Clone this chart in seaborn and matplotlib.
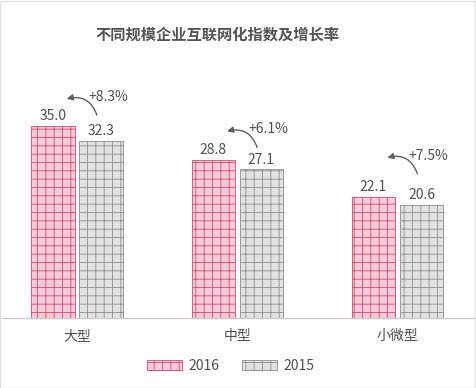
import pandas as pd
import matplotlib
matplotlib.use("Agg")
import matplotlib.pyplot as plt
import matplotlib.patches as mpatches
import seaborn as sns

# data
categories = ['大型', '中型', '小微型']
values_2016 = [35.0, 28.8, 22.1]
values_2015 = [32.3, 27.1, 20.6]
growth = ['+8.3%', '+6.1%', '+7.5%']
years = ['2016', '2015']

df = pd.DataFrame({
    'cat': categories * 2,
    'year': [years[0]] * 3 + [years[1]] * 3,
    'value': values_2016 + values_2015,
})

sns.set_style('white')
plt.rcParams['font.family'] = ['Noto Sans CJK SC', 'DejaVu Sans']
plt.rcParams['hatch.linewidth'] = 0.6

pink_dark, pink_light = '#d84a72', '#f7ccd8'
gray_dark, gray_light = '#8e8e8e', '#e2e2e2'
text_col = '#505050'

fig = plt.figure(figsize=(4.76, 3.88), dpi=100)
ax = fig.add_axes([0, 0.18, 1, 0.637])

sns.barplot(data=df, x='cat', y='value', hue='year', hue_order=years,
            width=0.6, gap=0.1, ax=ax, legend=False)

# style bars like the icon grid in the reference
styles = {years[0]: (pink_light, pink_dark), years[1]: (gray_light, gray_dark)}
for cont, yr in zip(ax.containers, years):
    face, edge = styles[yr]
    for bar in cont:
        bar.set_facecolor(face)
        bar.set_edgecolor(edge)
        bar.set_linewidth(0.6)
        bar.set_hatch('++')
    ax.bar_label(cont, fmt='%.1f', padding=2, fontsize=10, color=text_col)

# growth arrows (the small-firm one sits a bit higher in the original)
lift = [0, 0.3, 2.2]
for i, (v, g) in enumerate(zip(values_2016, growth)):
    base = v + lift[i]
    ax.annotate('', xy=(i - 0.08, base + 4.8), xytext=(i + 0.13, base + 1.5),
                arrowprops=dict(arrowstyle='-|>', color='#606060', lw=1.0,
                                mutation_scale=9,
                                connectionstyle='arc3,rad=0.5'))
    ax.text(i + 0.07, base + 5.3, g, fontsize=10, color=text_col,
            ha='left', va='center')

ax.set_xlim(-0.48, 2.49)
ax.set_ylim(0, 45)
ax.set_xlabel('')
ax.set_ylabel('')
ax.set_yticks([])
ax.tick_params(axis='x', length=0, labelsize=10, labelcolor=text_col, pad=8)
for s in ['top', 'left', 'right']:
    ax.spines[s].set_visible(False)
ax.spines['bottom'].set_color('#cccccc')
ax.spines['bottom'].set_linewidth(1)

fig.text(0.456, 0.912, '不同规模企业互联网化指数及增长率', ha='center', va='center',
         fontsize=11, fontweight='bold', color='#555555')

handles = [mpatches.Patch(facecolor=styles[y][0], edgecolor=styles[y][1],
                          hatch='++', linewidth=0.6) for y in years]
fig.legend(handles, years, loc='center', bbox_to_anchor=(0.485, 0.057), ncol=2,
           frameon=False, fontsize=10, labelcolor=text_col,
           handlelength=2.5, handleheight=0.8, columnspacing=1.6,
           handletextpad=0.5)

# light frame round the picture
fig.patches.append(mpatches.Rectangle((0.001, 0.001), 0.997, 0.997,
                                      transform=fig.transFigure, fill=False,
                                      edgecolor='#e2e2e2', lw=1))

plt.savefig('out.png', dpi=100)
